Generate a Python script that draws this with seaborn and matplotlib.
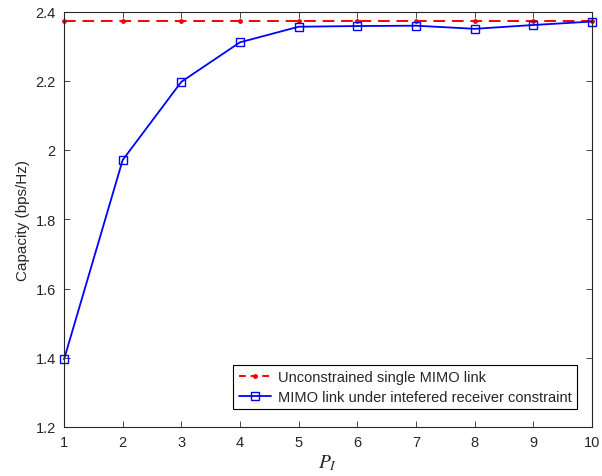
import matplotlib
matplotlib.use("Agg")
import matplotlib.pyplot as plt
import seaborn as sns
import pandas as pd

x_vals = [1, 2, 3, 4, 5, 6, 7, 8, 9, 10]
unconstrained = [2.372] * 10
constrained = [1.395, 1.971, 2.197, 2.311, 2.356, 2.358, 2.359, 2.350, 2.361, 2.371]
labels = ["Unconstrained single MIMO link", "MIMO link under intefered receiver constraint"]

sns.set_theme(style="white")
plt.rcParams["font.family"] = ["Liberation Sans", "DejaVu Sans"]
plt.rcParams["mathtext.fontset"] = "stix"

fig = plt.figure(figsize=(6.02, 4.77), dpi=100)
ax = fig.add_axes([64/602, 1-428/477, (592-64)/602, (428-12.5)/477])

df1 = pd.DataFrame({"x": x_vals, "y": unconstrained})
df2 = pd.DataFrame({"x": x_vals, "y": constrained})
sns.lineplot(data=df1, x="x", y="y", ax=ax, color="red", linestyle=(0, (6, 3.5)), lw=1.4,
             marker="o", markersize=3.5, markeredgewidth=0, label=labels[0], clip_on=False)
sns.lineplot(data=df2, x="x", y="y", ax=ax, color="blue", lw=1.3,
             marker="s", markersize=6, markerfacecolor="none", markeredgecolor="blue",
             markeredgewidth=1.0, label=labels[1], clip_on=False)

ax.set_xlim(1, 10)
ax.set_ylim(1.2, 2.4)
ax.set_xticks(range(1, 11))
ax.set_yticks([1.2, 1.4, 1.6, 1.8, 2.0, 2.2, 2.4])
ax.set_yticklabels(["1.2", "1.4", "1.6", "1.8", "2", "2.2", "2.4"])
ax.tick_params(direction="in", length=4, width=0.6, colors="#262626", labelsize=10.5,
               top=True, right=True, bottom=True, left=True, pad=6)
for s in ax.spines.values():
    s.set_color("#262626")
    s.set_linewidth(0.8)
ax.set_xlabel("$P_I$", fontsize=14, color="#262626", labelpad=2)
ax.set_ylabel("Capacity (bps/Hz)", fontsize=11, color="#262626")
leg = ax.legend(loc="lower right", fontsize=10.5, frameon=True, fancybox=False,
                edgecolor="black", framealpha=1, borderpad=0.35, handlelength=2.2,
                handletextpad=0.5, labelspacing=0.4, bbox_to_anchor=(0.985, 0.025))
leg.get_frame().set_linewidth(0.8)
for h in leg.get_lines()[:1]:
    h.set_linestyle((0, (3.5, 2.5)))
fig.savefig("out.png", dpi=100)
